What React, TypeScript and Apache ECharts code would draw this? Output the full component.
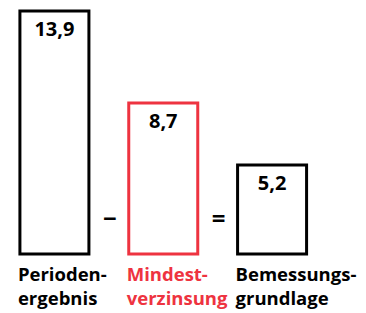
import React, { useEffect, useRef } from "react";
import * as echarts from "echarts";

const categories = ["Perioden-\nergebnis", "Mindest-\nverzinsung", "Bemessungs-\ngrundlage"];
const values = [13.9, 8.7, 5.2];
const valueLabels = ["13,9", "8,7", "5,2"];
const operators = ["\u2212", "="];
const colors = ["#000000", "#ee3340", "#000000"];

export default function App() {
  const ref = useRef<HTMLDivElement>(null);
  useEffect(() => {
    const chart = echarts.init(ref.current!, null, { renderer: "svg" });
    const font = "'Open Sans', sans-serif";
    const barWidth = 72;
    chart.setOption({
      animation: false,
      grid: { left: -1.5, top: 9.5, width: 328, bottom: 57.5 },
      xAxis: {
        type: "category",
        data: categories,
        axisLine: { show: false },
        axisTick: { show: false },
        axisLabel: { show: false },
        splitLine: { show: false },
      },
      yAxis: { type: "value", min: 0, max: 13.9, show: false, splitLine: { show: false } },
      series: [
        {
          type: "bar",
          barWidth,
          data: values.map((v, i) => ({
            value: v,
            itemStyle: { color: "rgba(255,255,255,0)", borderColor: colors[i], borderWidth: 3 },
          })),
          label: {
            show: true,
            position: "insideTop",
            distance: 9,
            formatter: (p: any) => valueLabels[p.dataIndex],
            fontFamily: font,
            fontWeight: "bold",
            fontSize: 20,
            color: "#000",
          },
        },
      ],
    });
    const graphic: any[] = [];
    const centers: number[] = [];
    let baseY = 0;
    categories.forEach((c, i) => {
      const [cx, cy] = chart.convertToPixel({ gridIndex: 0 }, [i, 0]) as number[];
      centers.push(cx);
      baseY = cy;
      graphic.push({
        type: "text",
        x: cx - barWidth / 2 - 0.5,
        y: cy + 6,
        style: {
          text: c,
          fill: colors[i] === "#000000" ? "#000" : colors[i],
          font: `bold 18.5px ${font}`,
          lineHeight: 24,
          textAlign: "left",
          textVerticalAlign: "top",
        },
      });
    });
    operators.forEach((op, i) => {
      graphic.push({
        type: "text",
        x: (centers[i] + centers[i + 1]) / 2 + 1,
        y: baseY - 38,
        style: {
          text: op,
          fill: "#000",
          font: `bold 24px ${font}`,
          textAlign: "center",
          textVerticalAlign: "middle",
        },
      });
    });
    chart.setOption({ graphic });
    return () => chart.dispose();
  }, []);
  return (
    <div
      ref={ref}
      style={{ position: "absolute", left: 0, top: 0, width: 366, height: 313, background: "#fff" }}
    />
  );
}
